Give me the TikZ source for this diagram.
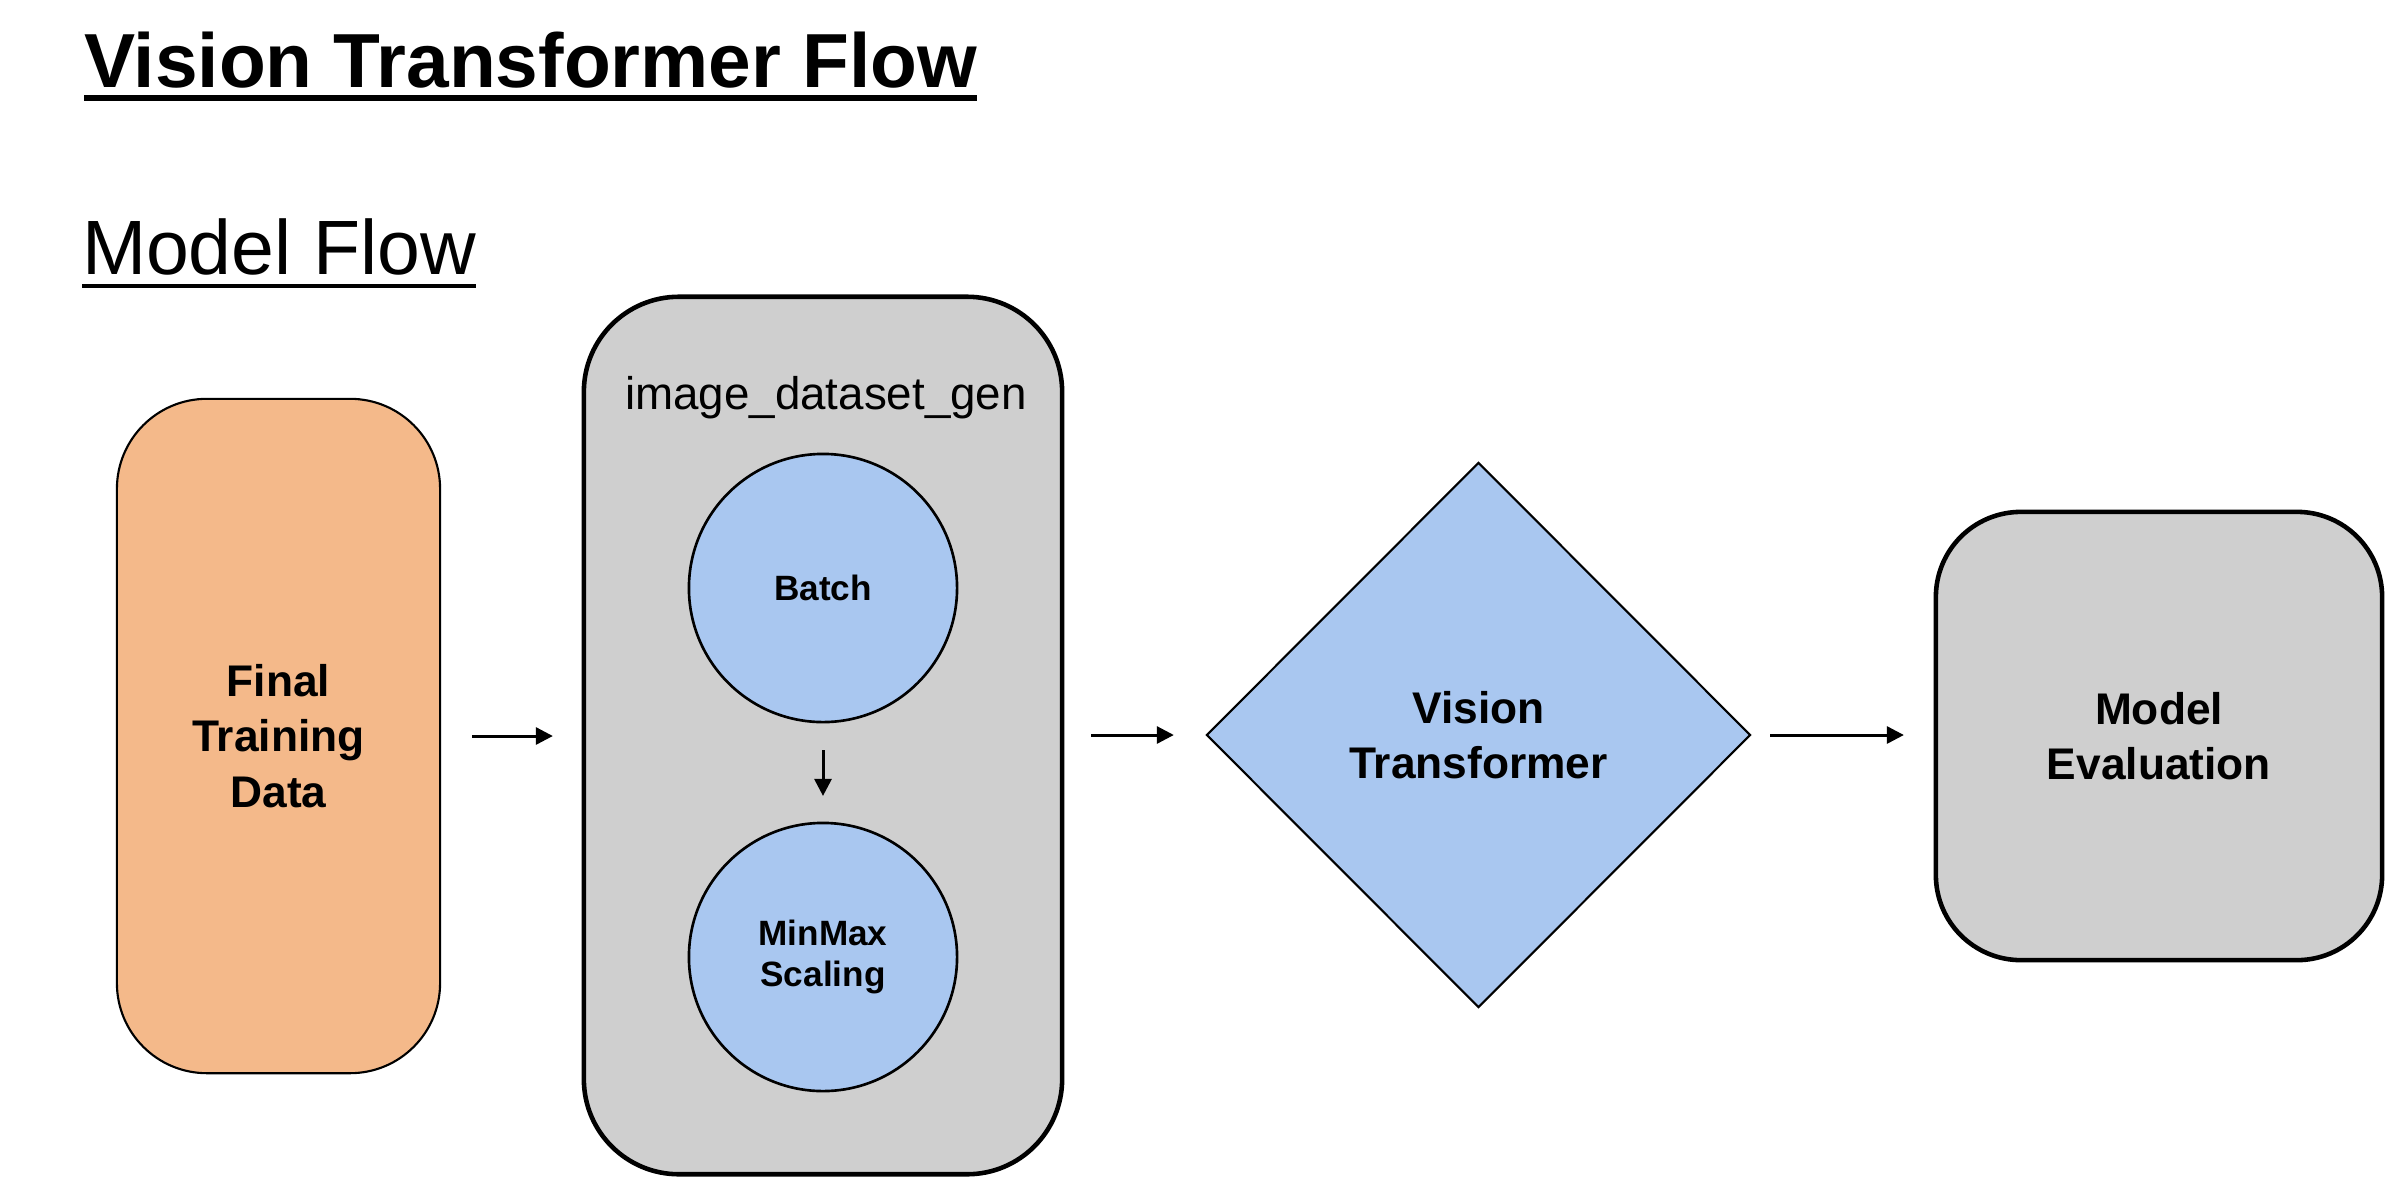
\documentclass[tikz,border=0pt]{standalone}
\usepackage{fontspec}
\setmainfont{Liberation Sans}
\usetikzlibrary{shapes.geometric,arrows.meta}
\definecolor{orangefill}{HTML}{F4B98A}
\definecolor{grayfill}{HTML}{CFCFCF}
\definecolor{bluefill}{HTML}{A9C7F0}
\begin{document}
\begin{tikzpicture}[x=0.01cm,y=-0.01cm,
  every node/.style={inner sep=0pt, outer sep=0pt},
  boxtext/.style={font=\fontsize{12.6}{15.8}\selectfont\bfseries, align=center},
  smalltext/.style={font=\fontsize{10}{11.7}\selectfont\bfseries, align=center},
  thinbox/.style={draw=black, line width=0.6pt},
  thickbox/.style={draw=black, line width=1.3pt},
  arr/.style={line width=0.85pt, -{Triangle[length=0.17cm,width=0.17cm]}}
]
\useasboundingbox (0,0) rectangle (2390,1178);

% titles
\node[anchor=base west, font=\fontsize{21.8}{26}\selectfont\bfseries] (title) at (84,87) {Vision Transformer Flow};
\draw[line width=1.7pt] ([yshift=-0.11cm]title.base west) -- ([yshift=-0.11cm]title.base east);
\node[anchor=base west, font=\fontsize{21.9}{26}\selectfont] (sub) at (82,274) {Model Flow};
\draw[line width=1.15pt] ([yshift=-0.12cm]sub.base west) -- ([yshift=-0.12cm]sub.base east);

% boxes
\node[thinbox, fill=orangefill, rounded corners=0.9cm, minimum width=3.23cm, minimum height=6.74cm, boxtext] (ftd) at (278.5,736) {Final\\Training\\Data};

\node[thickbox, fill=grayfill, rounded corners=0.95cm, minimum width=4.78cm, minimum height=8.77cm] (idg) at (823,735.5) {};
\node[anchor=base, font=\fontsize{13}{15}\selectfont] (idglabel) at (826,409) {image\_dataset\_gen};

\node[circle, draw=black, line width=0.75pt, fill=bluefill, minimum size=2.68cm, smalltext] (batch) at (823,588) {Batch};
\node[circle, draw=black, line width=0.75pt, fill=bluefill, minimum size=2.68cm, smalltext] (mms) at (823,957) {MinMax\\Scaling};

\node[diamond, thinbox, fill=bluefill, minimum width=5.43cm, minimum height=5.44cm, boxtext] (vit) at (1478.5,735) {Vision\\Transformer};

\node[thickbox, fill=grayfill, rounded corners=0.85cm, minimum width=4.46cm, minimum height=4.48cm, boxtext] (eval) at (2159,736) {Model\\Evaluation};

% connectors
\draw[arr, shorten <=0.32cm, shorten >=0.31cm] (ftd.east) -- (ftd.east -| idg.west);
\draw[arr, shorten <=0.28cm, shorten >=0.27cm] (batch.south) -- (mms.north);
\draw[arr, shorten <=0.29cm, shorten >=0.33cm] (idg.east |- vit.west) -- (vit.west);
\draw[arr, shorten <=0.20cm, shorten >=0.32cm] (vit.east) -- (vit.east -| eval.west);
\end{tikzpicture}
\end{document}
